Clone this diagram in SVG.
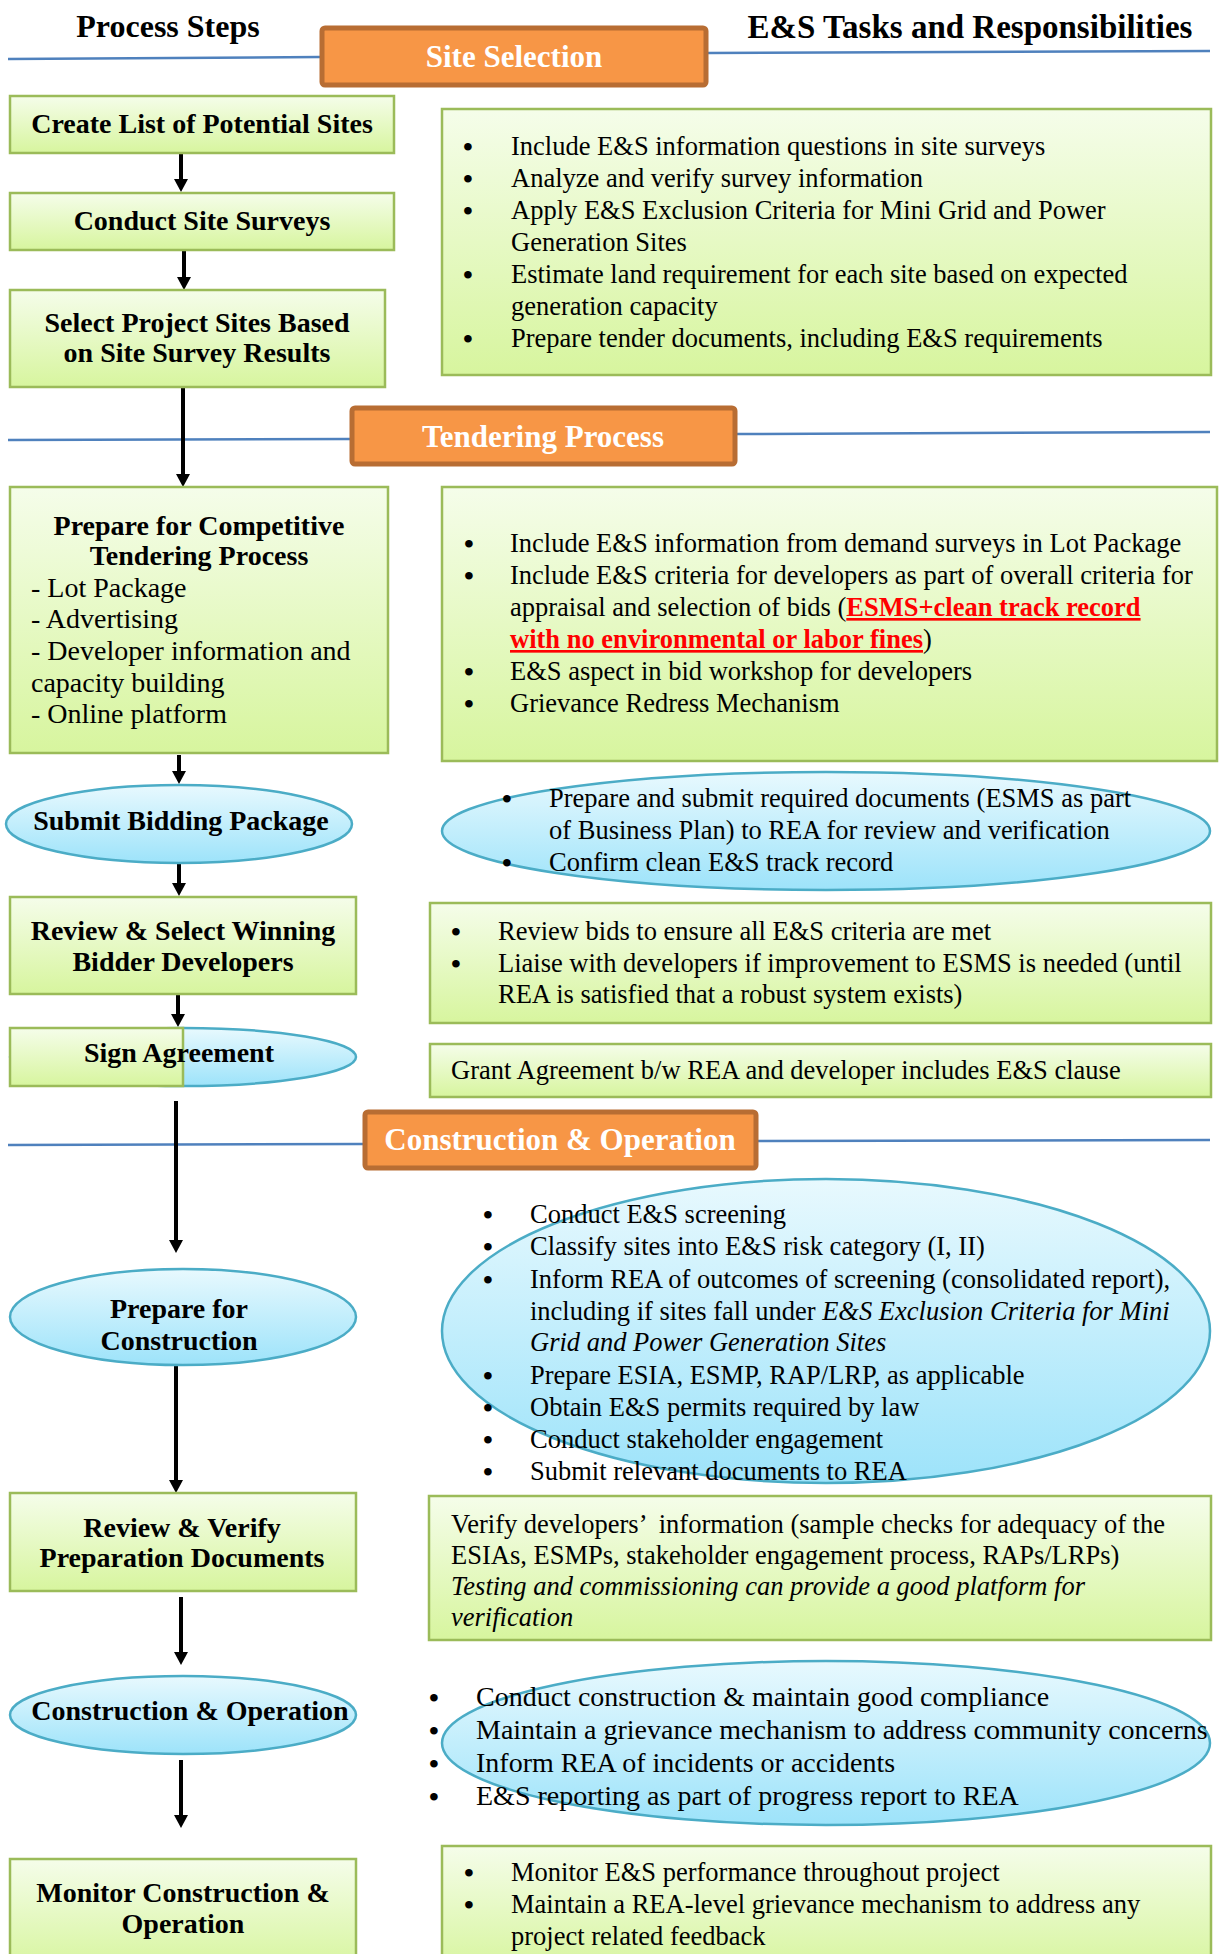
<svg xmlns="http://www.w3.org/2000/svg" width="1225" height="1954" viewBox="0 0 1225 1954">
<defs>
<linearGradient id="gGreen" x1="0" y1="0" x2="0" y2="1">
<stop offset="0" stop-color="#f5fdea"/>
<stop offset="1" stop-color="#d7f59e"/>
</linearGradient>
<linearGradient id="gBlue" x1="0" y1="0" x2="0" y2="1">
<stop offset="0" stop-color="#e8f9fe"/>
<stop offset="1" stop-color="#9de3fa"/>
</linearGradient>
<marker id="ah" markerUnits="userSpaceOnUse" markerWidth="16" markerHeight="16" refX="3" refY="7" orient="auto">
<path d="M0,0 L13,7 L0,14 z" fill="#000"/>
</marker>
<style>
text { font-family: "Liberation Serif", "Times New Roman", serif; fill: #000; }
.gbox { fill: url(#gGreen); stroke: #9bbb59; stroke-width: 2.5; }
.bell { fill: url(#gBlue); stroke: #4bacc6; stroke-width: 2.5; }
.sec { fill: #f79646; stroke: #b86d33; stroke-width: 5; }
.sep { stroke: #4f81bd; stroke-width: 2.5; fill: none; }
.arrow { stroke: #000; stroke-width: 4; fill: none; marker-end: url(#ah); }
.hd { font-size: 32px; font-weight: bold; text-anchor: middle; }
.st { font-size: 31px; font-weight: bold; text-anchor: middle; fill: #fff; }
.lb { font-size: 28px; font-weight: bold; text-anchor: middle; }
.lr { font-size: 28px; }
.tx { font-size: 26.5px; }
.tx28 { font-size: 28px; }
.bl { font-size: 28px; font-weight: bold; }
.red { fill: #ff0000; font-weight: bold; text-decoration: underline; }
.it { font-style: italic; }
</style>
</defs>

<!-- column headers -->
<g id="header-process-steps"><text class="hd" x="168" y="37">Process Steps</text></g>
<g id="header-es-tasks"><text class="hd" x="970" y="38" style="font-size:33px">E&amp;S Tasks and Responsibilities</text></g>

<!-- separators and connectors -->
<g id="connectors">
<line class="sep" x1="8" y1="59" x2="320" y2="57"/>
<line class="sep" x1="708" y1="53" x2="1210" y2="51"/>
<line class="sep" x1="8" y1="440" x2="350" y2="439"/>
<line class="sep" x1="737" y1="434" x2="1210" y2="432"/>
<line class="sep" x1="8" y1="1145" x2="363" y2="1144"/>
<line class="sep" x1="758" y1="1141" x2="1210" y2="1140"/>
<line class="arrow" x1="181" y1="153" x2="181" y2="182"/>
<line class="arrow" x1="184" y1="250" x2="184" y2="280"/>
<line class="arrow" x1="183" y1="387" x2="183" y2="477"/>
<line class="arrow" x1="179" y1="755" x2="179" y2="774"/>
<line class="arrow" x1="179" y1="864" x2="179" y2="886"/>
<line class="arrow" x1="178" y1="995" x2="178" y2="1017"/>
<line class="arrow" x1="176" y1="1101" x2="176" y2="1243"/>
<line class="arrow" x1="176" y1="1366" x2="176" y2="1483"/>
<line class="arrow" x1="181" y1="1597" x2="181" y2="1655"/>
<line class="arrow" x1="181" y1="1760" x2="181" y2="1818"/>
</g>

<!-- section headers -->
<g id="sec-site-selection">
<rect class="sec" x="322" y="28" width="384" height="57" rx="3"/>
<text class="st" x="514" y="67">Site Selection</text>
</g>
<g id="sec-tendering">
<rect class="sec" x="352" y="408" width="383" height="56" rx="3"/>
<text class="st" x="543" y="447">Tendering Process</text>
</g>
<g id="sec-construction">
<rect class="sec" x="365" y="1112" width="391" height="56" rx="3"/>
<text class="st" x="560" y="1150">Construction &amp; Operation</text>
</g>

<!-- left column nodes -->
<g id="n-create-list">
<rect class="gbox" x="10" y="96" width="384" height="57"/>
<text class="lb" x="202" y="133">Create List of Potential Sites</text>
</g>
<g id="n-conduct-surveys">
<rect class="gbox" x="10" y="193" width="384" height="57"/>
<text class="lb" x="202" y="230">Conduct Site Surveys</text>
</g>
<g id="n-select-sites">
<rect class="gbox" x="10" y="290" width="375" height="97"/>
<text class="lb" x="197" y="332">Select Project Sites Based</text>
<text class="lb" x="197" y="362">on Site Survey Results</text>
</g>
<g id="n-prepare-tendering">
<rect class="gbox" x="10" y="487" width="378" height="266"/>
<text class="lb" x="199" y="535">Prepare for Competitive</text>
<text class="lb" x="199" y="565">Tendering Process</text>
<text class="lr" x="31" y="597">- Lot Package</text>
<text class="lr" x="31" y="628">- Advertising</text>
<text class="lr" x="31" y="660">- Developer information and</text>
<text class="lr" x="31" y="692">capacity building</text>
<text class="lr" x="31" y="723">- Online platform</text>
</g>
<g id="n-submit-bidding">
<ellipse class="bell" cx="179" cy="824" rx="173" ry="39"/>
<text class="lb" x="181" y="830">Submit Bidding Package</text>
</g>
<g id="n-review-select">
<rect class="gbox" x="10" y="897" width="346" height="97"/>
<text class="lb" x="183" y="940">Review &amp; Select Winning</text>
<text class="lb" x="183" y="971">Bidder Developers</text>
</g>
<g id="n-sign-agreement">
<ellipse class="bell" cx="183" cy="1057" rx="173" ry="29"/>
<rect class="gbox" x="10" y="1028" width="173" height="58"/>
<text class="lb" x="179" y="1062">Sign Agreement</text>
</g>
<g id="n-prepare-construction">
<ellipse class="bell" cx="183" cy="1317" rx="173" ry="48"/>
<text class="lb" x="179" y="1318">Prepare for</text>
<text class="lb" x="179" y="1350">Construction</text>
</g>
<g id="n-review-verify">
<rect class="gbox" x="10" y="1493" width="346" height="98"/>
<text class="lb" x="182" y="1537">Review &amp; Verify</text>
<text class="lb" x="182" y="1567">Preparation Documents</text>
</g>
<g id="n-construction-operation">
<ellipse class="bell" cx="183" cy="1715" rx="173" ry="39"/>
<text class="lb" x="190" y="1720">Construction &amp; Operation</text>
</g>
<g id="n-monitor">
<rect class="gbox" x="10" y="1859" width="346" height="110"/>
<text class="lb" x="183" y="1902">Monitor Construction &amp;</text>
<text class="lb" x="183" y="1933">Operation</text>
</g>

<!-- right column task nodes -->
<g id="t-site-selection">
<rect class="gbox" x="442" y="109" width="769" height="266"/>
<text class="bl" x="463" y="156">•</text><text class="tx" x="511" y="155">Include E&amp;S information questions in site surveys</text>
<text class="bl" x="463" y="188">•</text><text class="tx" x="511" y="187">Analyze and verify survey information</text>
<text class="bl" x="463" y="220">•</text><text class="tx" x="511" y="219">Apply E&amp;S Exclusion Criteria for Mini Grid and Power</text>
<text class="tx" x="511" y="251">Generation Sites</text>
<text class="bl" x="463" y="284">•</text><text class="tx" x="511" y="283">Estimate land requirement for each site based on expected</text>
<text class="tx" x="511" y="315">generation capacity</text>
<text class="bl" x="463" y="348">•</text><text class="tx" x="511" y="347">Prepare tender documents, including E&amp;S requirements</text>
</g>
<g id="t-tendering">
<rect class="gbox" x="442" y="487" width="775" height="274"/>
<text class="bl" x="464" y="553">•</text><text class="tx" x="510" y="552">Include E&amp;S information from demand surveys in Lot Package</text>
<text class="bl" x="464" y="585">•</text><text class="tx" x="510" y="584">Include E&amp;S criteria for developers as part of overall criteria for</text>
<text class="tx" x="510" y="616">appraisal and selection of bids (<tspan class="red">ESMS+clean track record</tspan></text>
<text class="tx" x="510" y="648"><tspan class="red">with no environmental or labor fines</tspan>)</text>
<text class="bl" x="464" y="681">•</text><text class="tx" x="510" y="680">E&amp;S aspect in bid workshop for developers</text>
<text class="bl" x="464" y="713">•</text><text class="tx" x="510" y="712">Grievance Redress Mechanism</text>
</g>
<g id="t-submit">
<ellipse class="bell" cx="826" cy="831" rx="384" ry="59"/>
<text class="bl" x="502" y="808">•</text><text class="tx" x="549" y="807">Prepare and submit required documents (ESMS as part</text>
<text class="tx" x="549" y="839">of Business Plan) to REA for review and verification</text>
<text class="bl" x="502" y="872">•</text><text class="tx" x="549" y="871">Confirm clean E&amp;S track record</text>
</g>
<g id="t-review-bids">
<rect class="gbox" x="430" y="903" width="781" height="120"/>
<text class="bl" x="451" y="941">•</text><text class="tx" x="498" y="940">Review bids to ensure all E&amp;S criteria are met</text>
<text class="bl" x="451" y="973">•</text><text class="tx" x="498" y="972">Liaise with developers if improvement to ESMS is needed (until</text>
<text class="tx" x="498" y="1003">REA is satisfied that a robust system exists)</text>
</g>
<g id="t-grant">
<rect class="gbox" x="430" y="1044" width="781" height="53"/>
<text class="tx" x="451" y="1079">Grant Agreement b/w REA and developer includes E&amp;S clause</text>
</g>
<g id="t-prepare-construction">
<ellipse class="bell" cx="826" cy="1331" rx="384" ry="152"/>
<text class="bl" x="483" y="1224">•</text><text class="tx" x="530" y="1223">Conduct E&amp;S screening</text>
<text class="bl" x="483" y="1256">•</text><text class="tx" x="530" y="1255">Classify sites into E&amp;S risk category (I, II)</text>
<text class="bl" x="483" y="1289">•</text><text class="tx" x="530" y="1288">Inform REA of outcomes of screening (consolidated report),</text>
<text class="tx" x="530" y="1320">including if sites fall under <tspan class="it">E&amp;S Exclusion Criteria for Mini</tspan></text>
<text class="tx it" x="530" y="1351">Grid and Power Generation Sites</text>
<text class="bl" x="483" y="1385">•</text><text class="tx" x="530" y="1384">Prepare ESIA, ESMP, RAP/LRP, as applicable</text>
<text class="bl" x="483" y="1417">•</text><text class="tx" x="530" y="1416">Obtain E&amp;S permits required by law</text>
<text class="bl" x="483" y="1449">•</text><text class="tx" x="530" y="1448">Conduct stakeholder engagement</text>
<text class="bl" x="483" y="1481">•</text><text class="tx" x="530" y="1480">Submit relevant documents to REA</text>
</g>
<g id="t-verify">
<rect class="gbox" x="429" y="1496" width="782" height="144"/>
<text class="tx" x="451" y="1533" xml:space="preserve">Verify developers’  information (sample checks for adequacy of the</text>
<text class="tx" x="451" y="1564">ESIAs, ESMPs, stakeholder engagement process, RAPs/LRPs)</text>
<text class="tx it" x="451" y="1595">Testing and commissioning can provide a good platform for</text>
<text class="tx it" x="451" y="1626">verification</text>
</g>
<g id="t-construction">
<ellipse class="bell" cx="826" cy="1743" rx="384" ry="82"/>
<text class="bl" x="429" y="1707">•</text><text class="tx28" x="476" y="1706">Conduct construction &amp; maintain good compliance</text>
<text class="bl" x="429" y="1740">•</text><text class="tx28" x="476" y="1739">Maintain a grievance mechanism to address community concerns</text>
<text class="bl" x="429" y="1773">•</text><text class="tx28" x="476" y="1772">Inform REA of incidents or accidents</text>
<text class="bl" x="429" y="1806">•</text><text class="tx28" x="476" y="1805">E&amp;S reporting as part of progress report to REA</text>
</g>
<g id="t-monitor">
<rect class="gbox" x="442" y="1846" width="769" height="125"/>
<text class="bl" x="464" y="1882">•</text><text class="tx" x="511" y="1881">Monitor E&amp;S performance throughout project</text>
<text class="bl" x="464" y="1914">•</text><text class="tx" x="511" y="1913">Maintain a REA-level grievance mechanism to address any</text>
<text class="tx" x="511" y="1945">project related feedback</text>
</g>
</svg>
